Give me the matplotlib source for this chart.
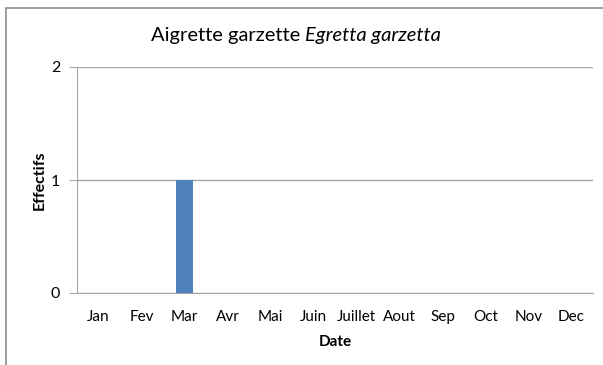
import matplotlib
matplotlib.use("Agg")
import matplotlib.pyplot as plt
from matplotlib.patches import Rectangle

months = ["Jan", "Fev", "Mar", "Avr", "Mai", "Juin", "Juillet", "Aout",
          "Sep", "Oct", "Nov", "Dec"]
effectifs = [0, 0, 1, 0, 0, 0, 0, 0, 0, 0, 0, 0]
y_ticks = [0, 1, 2]

plt.rcParams["font.family"] = ["Lato", "DejaVu Sans"]

W, H = 603, 365
fig = plt.figure(figsize=(W / 100, H / 100), dpi=100)

# outer chart frame (only left and top edges fall inside the image)
fig.patches.append(Rectangle((6 / W, -0.1), 1.2, 1.1 - 8 / H, transform=fig.transFigure,
                             fill=False, edgecolor="#8c8c8c", linewidth=1.2))

ax = fig.add_axes([77 / W, 1 - 293 / H, (593 - 77) / W, (293 - 67) / H])
x = range(len(months))
ax.bar(x, effectifs, width=0.4, color="#4f81bd", zorder=3)

ax.set_xlim(-0.5, len(months) - 0.5)
ax.set_ylim(0, 2)
ax.set_yticks(y_ticks)
ax.set_xticks(list(x))
ax.set_xticklabels(months)
ax.yaxis.grid(True, color="#a6a6a6", linewidth=1)
ax.set_axisbelow(True)
for side in ("top", "right"):
    ax.spines[side].set_visible(False)
for side in ("left", "bottom"):
    ax.spines[side].set_color("#a6a6a6")
ax.tick_params(axis="y", length=6, color="#a6a6a6", labelsize=11.5, pad=6)
ax.tick_params(axis="x", length=0, labelsize=11, pad=12)

ax.set_xlabel("Date", fontweight="bold", fontsize=11, labelpad=8)
ax.set_ylabel("Effectifs", fontweight="bold", fontsize=11.5, labelpad=3)

# title: common name upright, scientific name in italics
t1 = fig.text(0, 1 - 35 / H, "Aigrette garzette ", ha="left", va="center", fontsize=14.5)
t2 = fig.text(0, 1 - 35 / H, "Egretta garzetta", ha="left", va="center",
              fontsize=14.5, style="italic")
r = fig.canvas.get_renderer()
w1 = t1.get_window_extent(r).width
w2 = t2.get_window_extent(r).width
x0 = (296 - (w1 + w2) / 2) / W
t1.set_x(x0)
t2.set_x(x0 + w1 / W)

fig.savefig("out.png", dpi=100)
